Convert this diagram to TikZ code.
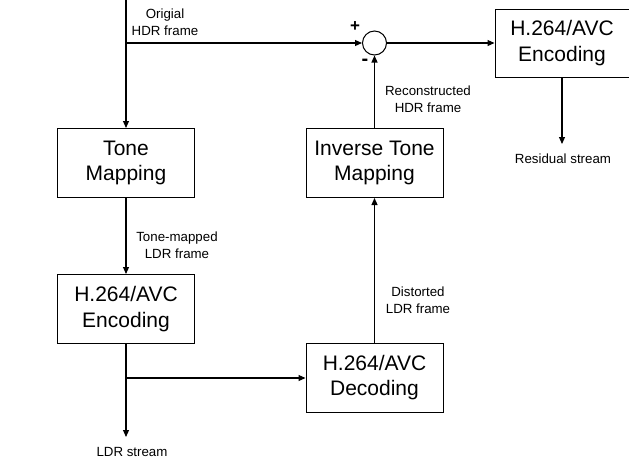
\documentclass[tikz,border=0pt]{standalone}
\usepackage{fontspec}
\setmainfont{Liberation Sans}
\usepackage{tikz}
\usetikzlibrary{arrows.meta, calc}

\begin{document}
\begin{tikzpicture}[
    x=1pt, y=-1pt,
    bloco/.style={draw, line width=1pt, minimum width=137pt, minimum height=69pt,
                  align=center, inner sep=0pt, font=\fontsize{21}{25.5}\selectfont},
    rotulo/.style={align=center, inner sep=0pt, font=\fontsize{13.3}{17}\selectfont},
    seta/.style={-{Triangle[length=7pt, width=6pt]}, line width=1.1pt}
]
    \useasboundingbox (0,0) rectangle (629,458);

    \node[bloco] (tone) at (126,163) {Tone\\Mapping};
    \node[bloco] (enc) at (126,309) {H.264/AVC\\Encoding};
    \node[bloco] (dec) at (374.5,377.5) {H.264/AVC\\Decoding};
    \node[bloco] (itm) at (374.5,163) {Inverse Tone\\Mapping};
    \node[bloco, minimum width=134pt, minimum height=68pt] (resenc) at (562,43) {H.264/AVC\\Encoding};
    \node[draw, circle, line width=1pt, minimum size=24pt, inner sep=0pt] (soma) at (374.5,43) {};

    \coordinate (entrada) at (126,0);
    \coordinate (ramo1) at (126,43);
    \coordinate (ramo2) at (126,378);
    \coordinate (ldrfim) at (126,437);
    \coordinate (resfim) at (562,144);

    \draw[seta] (entrada) -- (tone.north);
    \draw[seta] (ramo1) -- (soma.west);
    \draw[seta] (soma.east) -- (resenc.west);
    \draw[seta] (resenc.south) -- (resfim);
    \draw[seta] (tone.south) -- (enc.north);
    \draw[seta] (enc.south) -- (ldrfim);
    \draw[seta] (ramo2) -- (ramo2 -| dec.west);
    \draw[seta] (dec.north) -- (itm.south);
    \draw[seta] (itm.north) -- (soma.south);

    \node[rotulo] (l1) at (165,22) {Origial\\HDR frame};
    \node[rotulo] (l2) at (428,99) {Reconstructed\\HDR frame};
    \node[rotulo] (l3) at (177,245) {Tone-mapped\\LDR frame};
    \node[rotulo] (l4) at (418,300) {Distorted\\LDR frame};
    \node[rotulo] (l5) at (563,159) {Residual stream};
    \node[rotulo] (l6) at (132,452) {LDR stream};
    \node[font=\fontsize{17}{17}\selectfont\bfseries, inner sep=0pt] (mais) at (355,27) {+};
    \node[font=\fontsize{20}{20}\selectfont\bfseries, inner sep=0pt] (menos) at (365,62) {-};
\end{tikzpicture}
\end{document}
